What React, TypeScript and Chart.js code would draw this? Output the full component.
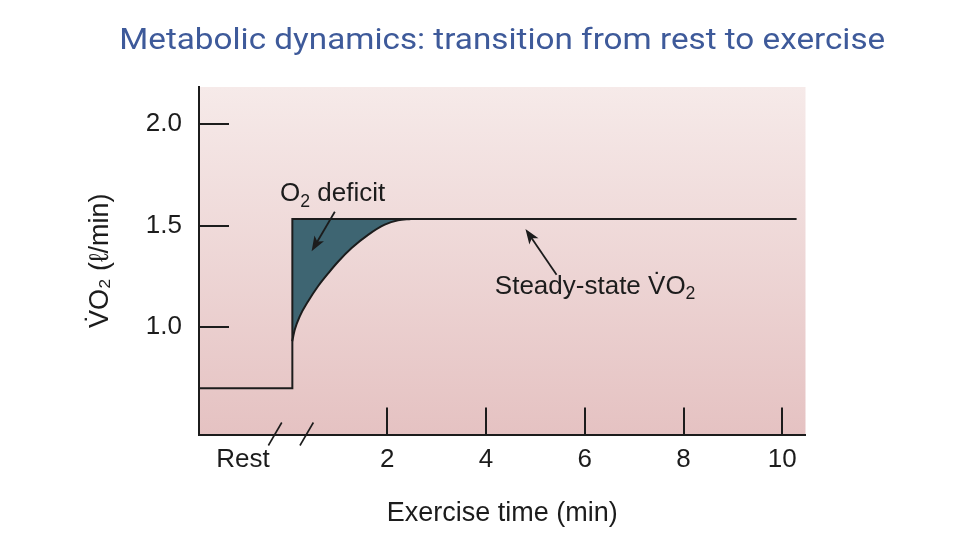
import React, { useEffect, useRef } from 'react';
import { Chart, registerables } from 'chart.js';

Chart.register(...registerables);

// ---- text ----
const TITLE = 'Metabolic dynamics: transition from rest to exercise';
const X_TITLE = 'Exercise time (min)';
const Y_TITLE = 'V\u0307O\u2082 (\u2113/min)';

// ---- axes ----
const X_MIN = -1.81;
const X_MAX = 10.47;
const Y_MIN = 0.472;
const Y_MAX = 2.183;
const X_TICKS = [-0.92, 2, 4, 6, 8, 10];
const X_TICK_LABELS = ['Rest', '2', '4', '6', '8', '10'];
const Y_TICKS = [1.0, 1.5, 2.0];
const BREAK_T = [-0.27, 0.37];

// ---- O2 requirement: rest level, step, steady state ----
const DEMAND_T = [-1.81, 0.08, 0.08, 10.29];
const DEMAND_V = [0.7, 0.7, 1.533, 1.533];
const STEADY_V = 1.533;

// ---- measured VO2 uptake after exercise onset ----
const UPTAKE_T = [0.077, 0.13, 0.23, 0.4, 0.6, 0.81, 1.01, 1.28, 1.62, 1.95, 2.22, 2.48];
const UPTAKE_V = [0.931, 0.989, 1.054, 1.128, 1.202, 1.267, 1.324, 1.39, 1.456, 1.505, 1.527, 1.533];

// ---- annotations (data units) ----
const DEFICIT_LABEL = { t: -0.17, v: 1.62 };
const DEFICIT_ARROW = { t0: 0.94, v0: 1.569, t1: 0.47, v1: 1.374 };
const STEADY_LABEL = { t: 4.18, v: 1.166 };
const STEADY_ARROW = { t0: 5.43, v0: 1.259, t1: 4.8, v1: 1.484 };

const INK = '#1c1c1c';
const FONT = '"Liberation Sans", Arial, Helvetica, sans-serif';

function drawRich(ctx: CanvasRenderingContext2D, parts: [string, boolean][], x: number, y: number, size: number) {
  let cx = x;
  ctx.textAlign = 'left';
  ctx.textBaseline = 'alphabetic';
  for (const [txt, sub] of parts) {
    const s = sub ? size * 0.68 : size;
    ctx.font = `${s}px ${FONT}`;
    ctx.fillText(txt, cx, sub ? y + size * 0.22 : y);
    cx += ctx.measureText(txt).width;
  }
}

function arrow(ctx: CanvasRenderingContext2D, x0: number, y0: number, x1: number, y1: number) {
  const ang = Math.atan2(y1 - y0, x1 - x0);
  const L = 15;
  const W = 5.5;
  ctx.beginPath();
  ctx.moveTo(x0, y0);
  ctx.lineTo(x1 - Math.cos(ang) * L * 0.7, y1 - Math.sin(ang) * L * 0.7);
  ctx.stroke();
  ctx.beginPath();
  ctx.moveTo(x1, y1);
  ctx.lineTo(x1 - Math.cos(ang) * L + Math.sin(ang) * W, y1 - Math.sin(ang) * L - Math.cos(ang) * W);
  ctx.lineTo(x1 - Math.cos(ang) * L * 0.75, y1 - Math.sin(ang) * L * 0.75);
  ctx.lineTo(x1 - Math.cos(ang) * L - Math.sin(ang) * W, y1 - Math.sin(ang) * L + Math.cos(ang) * W);
  ctx.closePath();
  ctx.fill();
}

const titlePlugin = {
  id: 'wideTitle',
  afterDraw(chart: any) {
    const { ctx, chartArea: a } = chart;
    ctx.save();
    ctx.font = '29px Roboto, "Noto Sans", sans-serif';
    ctx.fillStyle = '#3e5a9a';
    ctx.textAlign = 'center';
    ctx.textBaseline = 'alphabetic';
    const w = ctx.measureText(TITLE).width;
    const target = 766;
    ctx.translate((a.left + a.right) / 2, 49);
    ctx.scale(target / w, 1);
    ctx.fillText(TITLE, 0, 0);
    ctx.restore();
  },
};

const decor = {
  id: 'decor',
  beforeDraw(chart: any) {
    const { ctx, chartArea: a } = chart;
    const g = ctx.createLinearGradient(0, a.top, 0, a.bottom);
    g.addColorStop(0, '#f6eae9');
    g.addColorStop(1, '#e5c2c2');
    ctx.save();
    ctx.fillStyle = g;
    ctx.fillRect(a.left, a.top, a.right - a.left, a.bottom - a.top);
    ctx.restore();
  },
  afterDatasetsDraw(chart: any) {
    const { ctx, chartArea: a, scales } = chart;
    const x = scales.x;
    const y = scales.y;
    ctx.save();
    ctx.strokeStyle = INK;
    ctx.fillStyle = INK;
    ctx.lineWidth = 2;
    Y_TICKS.forEach((v) => {
      const py = Math.round(y.getPixelForValue(v));
      ctx.beginPath();
      ctx.moveTo(a.left, py);
      ctx.lineTo(a.left + 30, py);
      ctx.stroke();
    });
    X_TICKS.slice(1).forEach((t) => {
      const px = Math.round(x.getPixelForValue(t));
      ctx.beginPath();
      ctx.moveTo(px, a.bottom);
      ctx.lineTo(px, a.bottom - 27);
      ctx.stroke();
    });
    ctx.lineWidth = 1.6;
    BREAK_T.forEach((t) => {
      const px = x.getPixelForValue(t);
      ctx.beginPath();
      ctx.moveTo(px + 6.7, a.bottom - 12);
      ctx.lineTo(px - 6.7, a.bottom + 11);
      ctx.stroke();
    });
    ctx.lineWidth = 1.8;
    arrow(ctx, x.getPixelForValue(DEFICIT_ARROW.t0), y.getPixelForValue(DEFICIT_ARROW.v0),
      x.getPixelForValue(DEFICIT_ARROW.t1), y.getPixelForValue(DEFICIT_ARROW.v1));
    arrow(ctx, x.getPixelForValue(STEADY_ARROW.t0), y.getPixelForValue(STEADY_ARROW.v0),
      x.getPixelForValue(STEADY_ARROW.t1), y.getPixelForValue(STEADY_ARROW.v1));
    drawRich(ctx, [['O', false], ['2', true], [' deficit', false]],
      x.getPixelForValue(DEFICIT_LABEL.t), y.getPixelForValue(DEFICIT_LABEL.v), 26);
    drawRich(ctx, [['Steady-state V\u0307O', false], ['2', true]],
      x.getPixelForValue(STEADY_LABEL.t), y.getPixelForValue(STEADY_LABEL.v), 26);
    ctx.restore();
  },
};

export default function App() {
  const ref = useRef<HTMLCanvasElement | null>(null);
  useEffect(() => {
    if (!ref.current) return;
    const chart = new Chart(ref.current, {
      type: 'line',
      data: {
        datasets: [
          {
            label: 'O2 requirement',
            data: DEMAND_T.map((t, i) => ({ x: t, y: DEMAND_V[i] })),
            borderColor: INK,
            borderWidth: 2,
            pointRadius: 0,
            fill: false,
            tension: 0,
          },
          {
            label: 'VO2 uptake',
            data: UPTAKE_T.map((t, i) => ({ x: t, y: UPTAKE_V[i] })),
            borderColor: INK,
            borderWidth: 2,
            pointRadius: 0,
            cubicInterpolationMode: 'monotone',
            fill: { value: STEADY_V },
            backgroundColor: '#3e6572',
          },
        ],
      },
      options: {
        responsive: false,
        animation: false,
        layout: { padding: { left: 0, right: 154.5, top: 87, bottom: 0 } },
        plugins: {
          legend: { display: false },
          tooltip: { enabled: false },
          title: { display: false },
        },
        scales: {
          x: {
            type: 'linear',
            min: X_MIN,
            max: X_MAX,
            afterBuildTicks: (s: any) => {
              s.ticks = X_TICKS.map((v) => ({ value: v }));
            },
            afterFit: (s: any) => {
              s.height = 105.5;
            },
            grid: { display: false, drawTicks: false, tickLength: 0 },
            border: { display: true, color: INK, width: 2 },
            ticks: {
              padding: 10,
              color: INK,
              font: { family: FONT, size: 26 },
              maxRotation: 0,
              autoSkip: false,
              callback: (v: any) => {
                const i = X_TICKS.indexOf(Number(v));
                return i >= 0 ? X_TICK_LABELS[i] : '';
              },
            },
            title: {
              display: true,
              text: X_TITLE,
              color: INK,
              font: { family: FONT, size: 27 },
              padding: { top: 0, bottom: 10 },
            },
          },
          y: {
            type: 'linear',
            min: Y_MIN,
            max: Y_MAX,
            afterBuildTicks: (s: any) => {
              s.ticks = Y_TICKS.map((v) => ({ value: v }));
            },
            afterFit: (s: any) => {
              s.width = 199;
            },
            grid: { display: false, drawTicks: false, tickLength: 0 },
            border: { display: true, color: INK, width: 2 },
            ticks: {
              padding: 17,
              color: INK,
              font: { family: FONT, size: 26 },
              callback: (v: any) => Number(v).toFixed(1),
            },
            title: {
              display: true,
              text: Y_TITLE,
              color: INK,
              font: { family: FONT, size: 27 },
              padding: { top: 84, bottom: 0 },
            },
          },
        },
      },
      plugins: [decor, titlePlugin],
    });
    return () => chart.destroy();
  }, []);
  return (
    <div style={{ position: 'absolute', left: 0, top: 0, width: 960, height: 540, background: '#fff' }}>
      <canvas ref={ref} width={960} height={540} />
    </div>
  );
}
